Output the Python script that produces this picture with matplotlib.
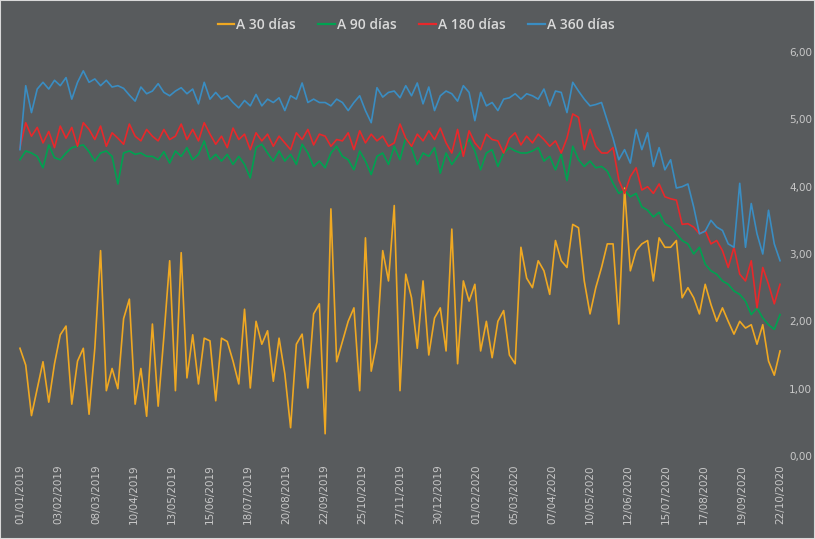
import matplotlib
matplotlib.use("Agg")
import matplotlib.pyplot as plt
import pandas as pd
from matplotlib.ticker import FuncFormatter
from matplotlib.patches import Rectangle

# ---------------- data (sampled every 5 days, 01/01/2019 .. 22/10/2020) ----------------
start_date = "2019-01-01"
end_date = "2020-10-22"

a30 = [1.60, 1.35, 0.60, 1.00, 1.40, 0.80, 1.37, 1.80, 1.93, 0.77,
       1.41, 1.60, 0.62, 1.60, 3.05, 0.97, 1.30, 1.00, 2.04, 2.33,
       0.77, 1.30, 0.59, 1.96, 0.74, 1.78, 2.90, 0.97, 3.02, 1.16,
       1.80, 1.07, 1.75, 1.71, 0.82, 1.75, 1.70, 1.41, 1.07, 2.18,
       1.01, 2.00, 1.66, 1.86, 1.11, 1.75, 1.22, 0.42, 1.66, 1.81,
       1.01, 2.11, 2.26, 0.33, 3.67, 1.40, 1.70, 2.00, 2.20, 0.97,
       3.24, 1.26, 1.70, 3.05, 2.60, 3.72, 0.97, 2.70, 2.35, 1.60,
       2.60, 1.50, 2.05, 2.20, 1.56, 3.37, 1.37, 2.60, 2.30, 2.55,
       1.56, 2.00, 1.46, 2.00, 2.16, 1.50, 1.37, 3.10, 2.64, 2.50,
       2.90, 2.75, 2.40, 3.20, 2.90, 2.80, 3.44, 3.39, 2.60, 2.11,
       2.50, 2.80, 3.15, 3.15, 1.96, 3.98, 2.75, 3.05, 3.15, 3.20,
       2.60, 3.24, 3.10, 3.10, 3.20, 2.35, 2.50, 2.35, 2.11, 2.55,
       2.25, 2.00, 2.20, 2.00, 1.81, 2.00, 1.90, 1.95, 1.66, 1.95,
       1.41, 1.20, 1.56]

a90 = [4.40, 4.53, 4.50, 4.45, 4.28, 4.62, 4.43, 4.40, 4.50, 4.58,
       4.60, 4.62, 4.52, 4.38, 4.50, 4.53, 4.45, 4.04, 4.50, 4.53,
       4.48, 4.50, 4.45, 4.45, 4.40, 4.52, 4.35, 4.53, 4.45, 4.58,
       4.40, 4.48, 4.68, 4.40, 4.48, 4.38, 4.48, 4.33, 4.45, 4.33,
       4.13, 4.58, 4.63, 4.50, 4.38, 4.53, 4.38, 4.48, 4.33, 4.63,
       4.50, 4.30, 4.38, 4.28, 4.50, 4.60, 4.45, 4.40, 4.25, 4.53,
       4.38, 4.18, 4.45, 4.50, 4.33, 4.60, 4.40, 4.73, 4.58, 4.33,
       4.50, 4.45, 4.58, 4.20, 4.50, 4.33, 4.45, 4.58, 4.70, 4.53,
       4.25, 4.50, 4.55, 4.30, 4.50, 4.58, 4.53, 4.50, 4.50, 4.53,
       4.58, 4.38, 4.45, 4.25, 4.48, 4.09, 4.60, 4.40, 4.30, 4.38,
       4.28, 4.30, 4.23, 4.05, 3.90, 3.95, 3.85, 3.90, 3.70, 3.65,
       3.55, 3.62, 3.45, 3.40, 3.30, 3.20, 3.15, 3.00, 3.10, 2.85,
       2.75, 2.70, 2.60, 2.55, 2.45, 2.40, 2.30, 2.10, 2.20, 2.05,
       1.95, 1.88, 2.10]

a180 = [4.58, 4.95, 4.75, 4.88, 4.65, 4.82, 4.58, 4.90, 4.72, 4.88,
        4.60, 4.95, 4.85, 4.70, 4.90, 4.60, 4.80, 4.72, 4.63, 4.93,
        4.75, 4.68, 4.85, 4.75, 4.68, 4.85, 4.70, 4.75, 4.93, 4.70,
        4.85, 4.68, 4.95, 4.78, 4.63, 4.75, 4.58, 4.87, 4.70, 4.78,
        4.55, 4.80, 4.68, 4.78, 4.60, 4.75, 4.65, 4.55, 4.80, 4.70,
        4.85, 4.62, 4.78, 4.75, 4.60, 4.70, 4.68, 4.80, 4.55, 4.83,
        4.65, 4.78, 4.68, 4.75, 4.60, 4.65, 4.93, 4.72, 4.60, 4.78,
        4.68, 4.83, 4.70, 4.87, 4.65, 4.50, 4.85, 4.45, 4.83, 4.65,
        4.55, 4.78, 4.70, 4.68, 4.50, 4.72, 4.80, 4.62, 4.75, 4.65,
        4.78, 4.70, 4.60, 4.68, 4.50, 4.72, 5.08, 5.03, 4.55, 4.85,
        4.60, 4.50, 4.50, 4.58, 4.10, 3.90, 4.15, 4.28, 3.95, 4.00,
        3.90, 4.04, 3.85, 3.82, 3.80, 3.44, 3.45, 3.40, 3.30, 3.35,
        3.15, 3.20, 3.05, 2.80, 3.10, 2.70, 2.60, 2.90, 2.20, 2.80,
        2.55, 2.26, 2.55]

a360 = [4.55, 5.50, 5.10, 5.45, 5.55, 5.45, 5.58, 5.50, 5.62, 5.30,
        5.55, 5.72, 5.55, 5.60, 5.50, 5.58, 5.48, 5.50, 5.46, 5.36,
        5.27, 5.48, 5.38, 5.42, 5.53, 5.40, 5.35, 5.42, 5.47, 5.38,
        5.45, 5.23, 5.55, 5.30, 5.40, 5.30, 5.35, 5.25, 5.17, 5.28,
        5.20, 5.37, 5.20, 5.30, 5.25, 5.32, 5.13, 5.35, 5.30, 5.54,
        5.25, 5.30, 5.25, 5.25, 5.20, 5.30, 5.25, 5.13, 5.25, 5.35,
        5.13, 4.95, 5.47, 5.33, 5.40, 5.42, 5.32, 5.50, 5.35, 5.54,
        5.23, 5.48, 5.13, 5.35, 5.42, 5.38, 5.27, 5.50, 5.40, 4.98,
        5.40, 5.20, 5.25, 5.13, 5.30, 5.32, 5.38, 5.30, 5.38, 5.35,
        5.30, 5.45, 5.20, 5.42, 5.40, 5.10, 5.55, 5.42, 5.30, 5.20,
        5.22, 5.25, 4.98, 4.72, 4.40, 4.55, 4.35, 4.85, 4.55, 4.80,
        4.30, 4.58, 4.25, 4.40, 3.98, 4.00, 4.04, 3.70, 3.30, 3.34,
        3.50, 3.40, 3.35, 3.15, 3.10, 4.05, 3.10, 3.75, 3.30, 3.00,
        3.65, 3.15, 2.90]

tick_labels = ["01/01/2019", "03/02/2019", "08/03/2019", "10/04/2019", "13/05/2019",
               "15/06/2019", "18/07/2019", "20/08/2019", "22/09/2019", "25/10/2019",
               "27/11/2019", "30/12/2019", "01/02/2020", "05/03/2020", "07/04/2020",
               "10/05/2020", "12/06/2020", "15/07/2020", "17/08/2020", "19/09/2020",
               "22/10/2020"]

series_names = ["A 30 días", "A 90 días", "A 180 días", "A 360 días"]
series_colors = ["#EFA822", "#00A251", "#E8282B", "#3A8DC2"]

# ---------------- figure ----------------
bg = "#585B5D"
txt = "#C8C8C8"
W, H = 815, 539
fig = plt.figure(figsize=(W / 100, H / 100), dpi=100, facecolor=bg)
fig.patches.append(Rectangle((0, 0), 1, 1, transform=fig.transFigure,
                             fill=False, edgecolor="#D9D9D9", linewidth=1.5))

ax = fig.add_axes([18 / W, (H - 456) / H, (782 - 18) / W, (456 - 52) / H])
ax.set_facecolor(bg)

dates = pd.date_range(start_date, end_date, freq="5D")
t0 = pd.Timestamp(start_date)
xs = [(d - t0).days for d in dates]

for vals, name, col in zip([a30, a90, a180, a360], series_names, series_colors):
    ax.plot(xs, vals, color=col, lw=1.2, label=name, solid_joinstyle="round")

tick_pos = [(pd.to_datetime(s, dayfirst=True) - t0).days for s in tick_labels]
ax.set_xticks(tick_pos)
ax.set_xticklabels(tick_labels, rotation=90, fontsize=7.5, color=txt, va="top")
ax.set_xlim(-1.7, 661.7)
ax.set_ylim(0, 6)
ax.set_yticks([0, 1, 2, 3, 4, 5, 6])
ax.yaxis.set_major_formatter(FuncFormatter(lambda v, p: f"{v:.2f}".replace(".", ",")))
ax.yaxis.tick_right()
ax.tick_params(axis="y", length=0, pad=5, labelsize=7.5, labelcolor=txt)
ax.tick_params(axis="x", length=0, pad=6)
for s in ax.spines.values():
    s.set_visible(False)

leg = fig.legend(loc="center", bbox_to_anchor=(416 / W, 1 - 25 / H), ncol=4,
                 frameon=False, handlelength=1.2, handletextpad=0.15,
                 columnspacing=1.6,
                 prop={"family": "Open Sans", "size": 10, "weight": "semibold"})
for t in leg.get_texts():
    t.set_color("#D9D9D9")
for l in leg.get_lines():
    l.set_linewidth(1.6)

fig.savefig("out.png", dpi=100, facecolor=bg)
